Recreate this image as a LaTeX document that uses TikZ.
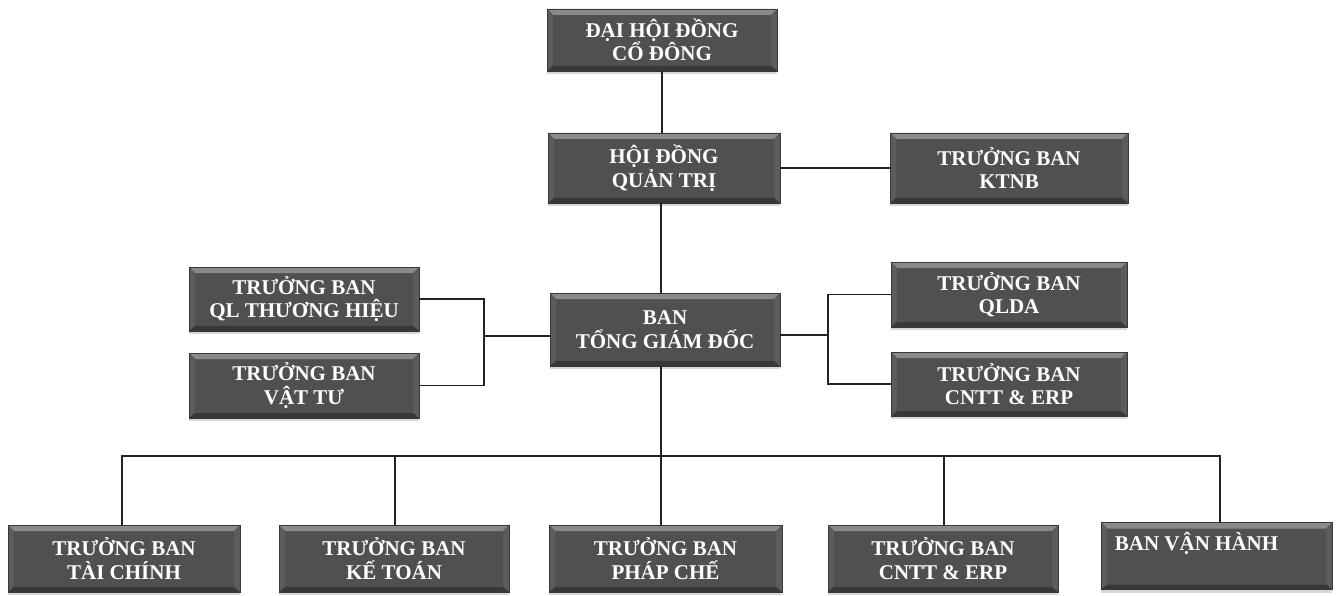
\documentclass[tikz,border=0pt]{standalone}
\usepackage{fontspec}
\setmainfont{Liberation Serif}
\usetikzlibrary{calc,shadows}
\definecolor{boxfill}{HTML}{505050}
\definecolor{boxlight}{HTML}{8A8A8A}
\definecolor{boxside}{HTML}{5C5C5C}
\definecolor{boxdark}{HTML}{383838}
\definecolor{linecol}{HTML}{222222}
\tikzset{
  orgbox/.style={rectangle, fill=boxfill, draw=boxdark, line width=0.6pt,
    text=white, font=\bfseries\fontsize{21}{23.5}\selectfont, align=center,
    inner sep=0pt,
    drop shadow={shadow xshift=0pt, shadow yshift=-3pt, fill=black!22, opacity=0.7},
    path picture={
      \fill[boxlight] (path picture bounding box.north west) -- (path picture bounding box.north east)
        -- ([xshift=-6pt,yshift=-6pt]path picture bounding box.north east)
        -- ([xshift=6pt,yshift=-6pt]path picture bounding box.north west) -- cycle;
      \fill[boxside] (path picture bounding box.north west) -- ([xshift=6pt,yshift=-6pt]path picture bounding box.north west)
        -- ([xshift=6pt,yshift=5pt]path picture bounding box.south west) -- (path picture bounding box.south west) -- cycle;
      \fill[boxside] (path picture bounding box.north east) -- ([xshift=-6pt,yshift=-6pt]path picture bounding box.north east)
        -- ([xshift=-6pt,yshift=5pt]path picture bounding box.south east) -- (path picture bounding box.south east) -- cycle;
      \fill[boxdark] (path picture bounding box.south west) -- ([xshift=6pt,yshift=5pt]path picture bounding box.south west)
        -- ([xshift=-6pt,yshift=5pt]path picture bounding box.south east) -- (path picture bounding box.south east) -- cycle;
    }},
  boxtext/.style={text=white, font=\bfseries\fontsize{21}{23.5}\selectfont, inner sep=0pt},
  conn/.style={draw=linecol, line width=1.4pt}
}
\begin{document}
\begin{tikzpicture}[x=1pt,y=-1pt]
\useasboundingbox[fill=white] (0,0) rectangle (1341,596);

% nodes
\node[orgbox, minimum width=230pt, minimum height=62pt] (dhdcd) at (662,40) {ĐẠI HỘI ĐỒNG\\CỔ ĐÔNG};
\node[orgbox, minimum width=232pt, minimum height=70pt] (hdqt) at (664,168) {HỘI ĐỒNG\\QUẢN TRỊ};
\node[orgbox, minimum width=238pt, minimum height=70pt] (ktnb) at (1009,168) {TRƯỞNG BAN\\KTNB};
\node[orgbox, minimum width=230pt, minimum height=73pt] (tgd) at (665,329.5) {BAN\\TỔNG GIÁM ĐỐC};
\node[orgbox, minimum width=230pt, minimum height=64pt] (qlth) at (304,299) {TRƯỞNG BAN\\QL THƯƠNG HIỆU};
\node[orgbox, minimum width=230pt, minimum height=65pt] (vattu) at (304,385.5) {TRƯỞNG BAN\\VẬT TƯ};
\node[orgbox, minimum width=236pt, minimum height=65pt] (qlda) at (1009,294.5) {TRƯỞNG BAN\\QLDA};
\node[orgbox, minimum width=236pt, minimum height=64pt] (cntta) at (1009,384) {TRƯỞNG BAN\\CNTT \& ERP};

\node[orgbox, minimum width=232pt, minimum height=67pt] (taichinh) at (124,558.5) {TRƯỞNG BAN\\TÀI CHÍNH};
\node[orgbox, minimum width=230pt, minimum height=67pt] (ketoan) at (394,558.5) {TRƯỞNG BAN\\KẾ TOÁN};
\node[orgbox, minimum width=233pt, minimum height=67pt] (phapche) at (665.5,558.5) {TRƯỞNG BAN\\PHÁP CHẾ};
\node[orgbox, minimum width=230pt, minimum height=67pt] (cnttb) at (943,558.5) {TRƯỞNG BAN\\CNTT \& ERP};
\node[orgbox, minimum width=231pt, minimum height=67pt] (vanhanh) at (1216.5,556) {};
\node[boxtext, anchor=west] (vanhanhtext) at ($(vanhanh.north west)+(14,21)$) {BAN VẬN HÀNH};

% coordinates
\coordinate (lb) at (484,336);
\coordinate (rb) at (828,335);
\coordinate (bus) at (661,456);

% connectors
\draw[conn] (dhdcd.south) -- (dhdcd.south |- hdqt.north);
\draw[conn] (hdqt.east) -- (hdqt.east -| ktnb.west);
\draw[conn] (bus |- hdqt.south) -- (bus |- tgd.north);

\draw[conn] (qlth.east) -| (lb) |- (vattu.east);
\draw[conn] (lb) -- (lb -| tgd.west);

\draw[conn] (qlda.west) -| (rb) |- (cntta.west);
\draw[conn] (rb) -- (rb -| tgd.east);

\draw[conn] (bus |- tgd.south) -- (bus);
\draw[conn] ([xshift=-2pt]taichinh.north) -- ([xshift=-2pt]taichinh.north |- bus) -- ([xshift=3.5pt]vanhanh.north |- bus) -- ([xshift=3.5pt]vanhanh.north);
\draw[conn] ([xshift=1pt]ketoan.north) -- ([xshift=1pt]ketoan.north |- bus);
\draw[conn] (bus) -- (bus |- phapche.north);
\draw[conn] ([xshift=1pt]cnttb.north) -- ([xshift=1pt]cnttb.north |- bus);
\end{tikzpicture}
\end{document}
